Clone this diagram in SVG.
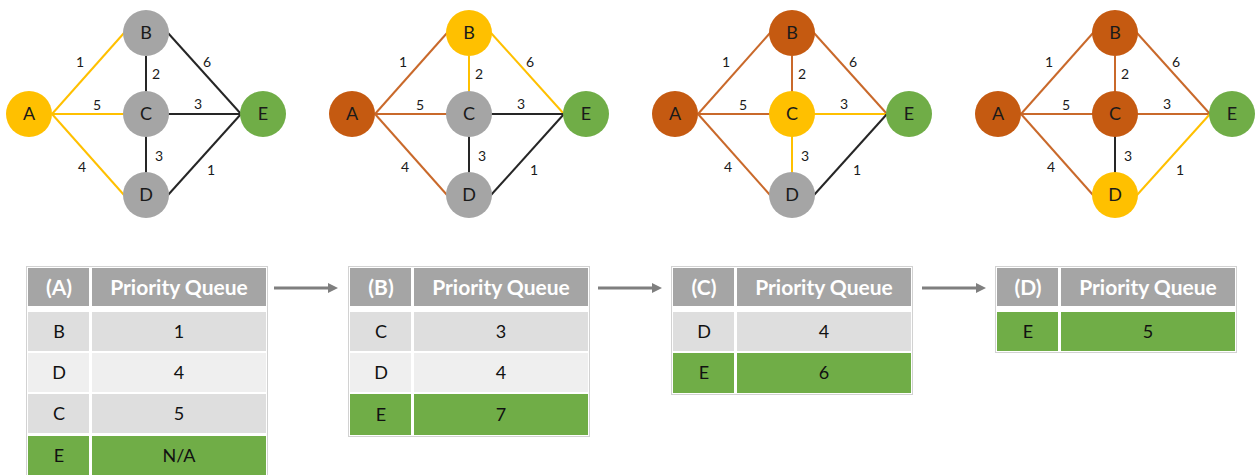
<svg xmlns="http://www.w3.org/2000/svg" width="1255" height="475" viewBox="0 0 1255 475">
<defs>
<style>
.e{fill:none;stroke-width:2}
.ey{stroke:#FFC000}.eo{stroke:#C9692B}.ek{stroke:#262626}
.fy{fill:#FFC000}.fo{fill:#C55A11}.fg{fill:#A5A5A5}.fe{fill:#70AD47}
.nt{font-family:Lato,"Open Sans",sans-serif;font-size:18px;fill:#1a1a1a;text-anchor:middle}
.el{font-family:Lato,"Open Sans",sans-serif;font-size:14px;fill:#1a1a1a;text-anchor:middle}
.th{fill:#A5A5A5}.rd{fill:#DEDEDE}.rl{fill:#EFEFEF}.rg{fill:#70AD47}
.tb{fill:#fff;stroke:#D2D2D2;stroke-width:1}
.ht{font-family:Lato,"Open Sans",sans-serif;font-size:21px;font-weight:bold;fill:#fff;text-anchor:middle}
.bt{font-family:Lato,"Open Sans",sans-serif;font-size:18px;fill:#111;text-anchor:middle}
.ar{stroke:#7F7F7F;stroke-width:3;fill:none}
</style>
<marker id="ah" markerUnits="userSpaceOnUse" markerWidth="10" markerHeight="10" refX="0" refY="5" orient="auto" viewBox="0 0 10 10">
<path d="M0,0 L10,5 L0,10 z" fill="#7F7F7F"/>
</marker>
</defs>
<rect width="1255" height="475" fill="#fff"/>

<g id="connectors">
 <g id="edges-1">
  <line class="e ey" x1="52" y1="114" x2="124" y2="33"/>
  <line class="e ey" x1="52" y1="114" x2="124" y2="114"/>
  <line class="e ey" x1="52" y1="114" x2="124" y2="195"/>
  <line class="e ek" x1="146" y1="56" x2="146" y2="92"/>
  <line class="e ek" x1="146" y1="136" x2="146" y2="173"/>
  <line class="e ek" x1="168" y1="33" x2="241" y2="114"/>
  <line class="e ek" x1="168" y1="114" x2="241" y2="114"/>
  <line class="e ek" x1="168" y1="195" x2="241" y2="114"/>
 </g>
 <g id="edges-2" transform="translate(323,0)">
  <line class="e eo" x1="52" y1="114" x2="124" y2="33"/>
  <line class="e eo" x1="52" y1="114" x2="124" y2="114"/>
  <line class="e eo" x1="52" y1="114" x2="124" y2="195"/>
  <line class="e ey" x1="146" y1="56" x2="146" y2="92"/>
  <line class="e ek" x1="146" y1="136" x2="146" y2="173"/>
  <line class="e ey" x1="168" y1="33" x2="241" y2="114"/>
  <line class="e ek" x1="168" y1="114" x2="241" y2="114"/>
  <line class="e ek" x1="168" y1="195" x2="241" y2="114"/>
 </g>
 <g id="edges-3" transform="translate(646,0)">
  <line class="e eo" x1="52" y1="114" x2="124" y2="33"/>
  <line class="e eo" x1="52" y1="114" x2="124" y2="114"/>
  <line class="e eo" x1="52" y1="114" x2="124" y2="195"/>
  <line class="e eo" x1="146" y1="56" x2="146" y2="92"/>
  <line class="e ey" x1="146" y1="136" x2="146" y2="173"/>
  <line class="e eo" x1="168" y1="33" x2="241" y2="114"/>
  <line class="e ey" x1="168" y1="114" x2="241" y2="114"/>
  <line class="e ek" x1="168" y1="195" x2="241" y2="114"/>
 </g>
 <g id="edges-4" transform="translate(969,0)">
  <line class="e eo" x1="52" y1="114" x2="124" y2="33"/>
  <line class="e eo" x1="52" y1="114" x2="124" y2="114"/>
  <line class="e eo" x1="52" y1="114" x2="124" y2="195"/>
  <line class="e eo" x1="146" y1="56" x2="146" y2="92"/>
  <line class="e ek" x1="146" y1="136" x2="146" y2="173"/>
  <line class="e eo" x1="168" y1="33" x2="241" y2="114"/>
  <line class="e eo" x1="168" y1="114" x2="241" y2="114"/>
  <line class="e ey" x1="168" y1="195" x2="241" y2="114"/>
 </g>
 <g id="edge-labels">
  <g transform="translate(0,0)">
   <text class="el" x="80" y="67">1</text><text class="el" x="207" y="67">6</text><text class="el" x="156" y="79">2</text><text class="el" x="97" y="110">5</text><text class="el" x="198" y="109">3</text><text class="el" x="159" y="161">3</text><text class="el" x="82" y="172">4</text><text class="el" x="211" y="175">1</text>
  </g>
  <g transform="translate(323,0)">
   <text class="el" x="80" y="67">1</text><text class="el" x="207" y="67">6</text><text class="el" x="156" y="79">2</text><text class="el" x="97" y="110">5</text><text class="el" x="198" y="109">3</text><text class="el" x="159" y="161">3</text><text class="el" x="82" y="172">4</text><text class="el" x="211" y="175">1</text>
  </g>
  <g transform="translate(646,0)">
   <text class="el" x="80" y="67">1</text><text class="el" x="207" y="67">6</text><text class="el" x="156" y="79">2</text><text class="el" x="97" y="110">5</text><text class="el" x="198" y="109">3</text><text class="el" x="159" y="161">3</text><text class="el" x="82" y="172">4</text><text class="el" x="211" y="175">1</text>
  </g>
  <g transform="translate(969,0)">
   <text class="el" x="80" y="67">1</text><text class="el" x="207" y="67">6</text><text class="el" x="156" y="79">2</text><text class="el" x="97" y="110">5</text><text class="el" x="198" y="109">3</text><text class="el" x="159" y="161">3</text><text class="el" x="82" y="172">4</text><text class="el" x="211" y="175">1</text>
  </g>
 </g>
 <g id="arrows">
  <line class="ar" x1="274" y1="288" x2="328" y2="288" marker-end="url(#ah)"/>
  <line class="ar" x1="598" y1="288" x2="652" y2="288" marker-end="url(#ah)"/>
  <line class="ar" x1="922" y1="288" x2="976" y2="288" marker-end="url(#ah)"/>
 </g>
</g>

<g id="graph-1">
 <g id="g1-A"><circle class="fy" cx="29" cy="114" r="23"/><text class="nt" x="29" y="120">A</text></g>
 <g id="g1-B"><circle class="fg" cx="146" cy="33" r="23"/><text class="nt" x="146" y="39">B</text></g>
 <g id="g1-C"><circle class="fg" cx="146" cy="114" r="23"/><text class="nt" x="146" y="120">C</text></g>
 <g id="g1-D"><circle class="fg" cx="146" cy="195" r="23"/><text class="nt" x="146" y="201">D</text></g>
 <g id="g1-E"><circle class="fe" cx="263" cy="114" r="23"/><text class="nt" x="263" y="120">E</text></g>
</g>
<g id="graph-2" transform="translate(323,0)">
 <g id="g2-A"><circle class="fo" cx="29" cy="114" r="23"/><text class="nt" x="29" y="120">A</text></g>
 <g id="g2-B"><circle class="fy" cx="146" cy="33" r="23"/><text class="nt" x="146" y="39">B</text></g>
 <g id="g2-C"><circle class="fg" cx="146" cy="114" r="23"/><text class="nt" x="146" y="120">C</text></g>
 <g id="g2-D"><circle class="fg" cx="146" cy="195" r="23"/><text class="nt" x="146" y="201">D</text></g>
 <g id="g2-E"><circle class="fe" cx="263" cy="114" r="23"/><text class="nt" x="263" y="120">E</text></g>
</g>
<g id="graph-3" transform="translate(646,0)">
 <g id="g3-A"><circle class="fo" cx="29" cy="114" r="23"/><text class="nt" x="29" y="120">A</text></g>
 <g id="g3-B"><circle class="fo" cx="146" cy="33" r="23"/><text class="nt" x="146" y="39">B</text></g>
 <g id="g3-C"><circle class="fy" cx="146" cy="114" r="23"/><text class="nt" x="146" y="120">C</text></g>
 <g id="g3-D"><circle class="fg" cx="146" cy="195" r="23"/><text class="nt" x="146" y="201">D</text></g>
 <g id="g3-E"><circle class="fe" cx="263" cy="114" r="23"/><text class="nt" x="263" y="120">E</text></g>
</g>
<g id="graph-4" transform="translate(969,0)">
 <g id="g4-A"><circle class="fo" cx="29" cy="114" r="23"/><text class="nt" x="29" y="120">A</text></g>
 <g id="g4-B"><circle class="fo" cx="146" cy="33" r="23"/><text class="nt" x="146" y="39">B</text></g>
 <g id="g4-C"><circle class="fo" cx="146" cy="114" r="23"/><text class="nt" x="146" y="120">C</text></g>
 <g id="g4-D"><circle class="fy" cx="146" cy="195" r="23"/><text class="nt" x="146" y="201">D</text></g>
 <g id="g4-E"><circle class="fe" cx="263" cy="114" r="23"/><text class="nt" x="263" y="120">E</text></g>
</g>

<g id="table-A" transform="translate(27,0)">
 <rect class="tb" x="-0.5" y="266.5" width="241" height="220"/>
 <rect class="th" x="1" y="268" width="61" height="38"/><rect class="th" x="65" y="268" width="174" height="38"/>
 <text class="ht" x="32" y="295">(A)</text><text class="ht" x="152" y="295">Priority Queue</text>
 <rect class="rd" x="1" y="312" width="61" height="39"/><rect class="rd" x="65" y="312" width="174" height="39"/>
 <text class="bt" x="32" y="338">B</text><text class="bt" x="152" y="338">1</text>
 <rect class="rl" x="1" y="353" width="61" height="39"/><rect class="rl" x="65" y="353" width="174" height="39"/>
 <text class="bt" x="32" y="379">D</text><text class="bt" x="152" y="379">4</text>
 <rect class="rd" x="1" y="394" width="61" height="39"/><rect class="rd" x="65" y="394" width="174" height="39"/>
 <text class="bt" x="32" y="420">C</text><text class="bt" x="152" y="420">5</text>
 <rect class="rg" x="1" y="436" width="61" height="40"/><rect class="rg" x="65" y="436" width="174" height="40"/>
 <text class="bt" x="32" y="462">E</text><text class="bt" x="152" y="462">N/A</text>
</g>

<g id="table-B" transform="translate(349,0)">
 <rect class="tb" x="-0.5" y="266.5" width="241" height="170"/>
 <rect class="th" x="1" y="268" width="61" height="38"/><rect class="th" x="65" y="268" width="174" height="38"/>
 <text class="ht" x="32" y="295">(B)</text><text class="ht" x="152" y="295">Priority Queue</text>
 <rect class="rd" x="1" y="312" width="61" height="39"/><rect class="rd" x="65" y="312" width="174" height="39"/>
 <text class="bt" x="32" y="338">C</text><text class="bt" x="152" y="338">3</text>
 <rect class="rl" x="1" y="353" width="61" height="39"/><rect class="rl" x="65" y="353" width="174" height="39"/>
 <text class="bt" x="32" y="379">D</text><text class="bt" x="152" y="379">4</text>
 <rect class="rg" x="1" y="394" width="61" height="41"/><rect class="rg" x="65" y="394" width="174" height="41"/>
 <text class="bt" x="32" y="421">E</text><text class="bt" x="152" y="421">7</text>
</g>

<g id="table-C" transform="translate(672,0)">
 <rect class="tb" x="-0.5" y="266.5" width="241" height="128"/>
 <rect class="th" x="1" y="268" width="61" height="38"/><rect class="th" x="65" y="268" width="174" height="38"/>
 <text class="ht" x="32" y="295">(C)</text><text class="ht" x="152" y="295">Priority Queue</text>
 <rect class="rd" x="1" y="312" width="61" height="39"/><rect class="rd" x="65" y="312" width="174" height="39"/>
 <text class="bt" x="32" y="338">D</text><text class="bt" x="152" y="338">4</text>
 <rect class="rg" x="1" y="353" width="61" height="40"/><rect class="rg" x="65" y="353" width="174" height="40"/>
 <text class="bt" x="32" y="379">E</text><text class="bt" x="152" y="379">6</text>
</g>

<g id="table-D" transform="translate(996,0)">
 <rect class="tb" x="-0.5" y="266.5" width="241" height="86"/>
 <rect class="th" x="1" y="268" width="61" height="38"/><rect class="th" x="65" y="268" width="174" height="38"/>
 <text class="ht" x="32" y="295">(D)</text><text class="ht" x="152" y="295">Priority Queue</text>
 <rect class="rg" x="1" y="312" width="61" height="39"/><rect class="rg" x="65" y="312" width="174" height="39"/>
 <text class="bt" x="32" y="338">E</text><text class="bt" x="152" y="338">5</text>
</g>
</svg>
